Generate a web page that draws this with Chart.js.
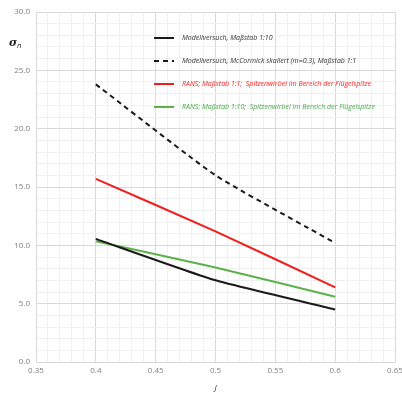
<!DOCTYPE html>
<html>
<head>
    <meta charset="UTF-8">
    <title>sigma_n over J</title>
    <script src="https://cdn.jsdelivr.net/npm/chart.js@4.4.1/dist/chart.umd.min.js"></script>
    <style>
        html, body { margin: 0; padding: 0; background: #fff; }
        #wrap { width: 402px; height: 397px; position: relative; }
    </style>
</head>
<body>
    <div id="wrap"><canvas id="chart"></canvas></div>

    <script>
        // data
        const jValues = [0.4, 0.5, 0.6];
        const modell = [10.55, 7.0, 4.5];
        const mcCormick = [23.8, 16.0, 10.2];
        const ransFull = [15.7, 11.2, 6.4];
        const ransModel = [10.35, 8.1, 5.6];

        const seriesLabels = [
            'Modellversuch, Maßstab 1:10',
            'Modellversuch, McCormick skaliert (m=0.3), Maßstab 1:1',
            'RANS; Maßstab 1:1;  Spitzenwirbel im Bereich der Flügelspitze',
            'RANS; Maßstab 1:10;  Spitzenwirbel im Bereich der Flügelspitze'
        ];
        const labelColors = ['#333333', '#333333', '#ff2020', '#4ea64e'];

        function toPoints(ys) {
            return jValues.map((x, i) => ({ x: x, y: ys[i] }));
        }

        // legend drawn inside the plot, like the original
        const innerLegend = {
            id: 'innerLegend',
            afterDraw(chart) {
                const ctx = chart.ctx;
                ctx.save();
                chart.data.datasets.forEach((ds, i) => {
                    const y = 38 + i * 23;
                    ctx.strokeStyle = ds.borderColor;
                    ctx.lineWidth = ds.borderWidth;
                    ctx.setLineDash(ds.borderDash || []);
                    ctx.beginPath();
                    ctx.moveTo(154, y);
                    ctx.lineTo(174, y);
                    ctx.stroke();
                    ctx.setLineDash([]);
                    ctx.fillStyle = labelColors[i];
                    ctx.font = 'italic 7px "Open Sans"';
                    ctx.textBaseline = 'middle';
                    ctx.fillText(ds.label, 182, y);
                });
                // y axis title
                ctx.fillStyle = '#222';
                ctx.font = 'italic bold 11px "DejaVu Serif"';
                ctx.textBaseline = 'alphabetic';
                ctx.fillText('σ', 9, 46);
                ctx.font = 'italic 7px "DejaVu Sans"';
                ctx.fillText('n', 17, 48);
                ctx.restore();
            }
        };

        const isMajorX = v => Math.round(v * 100) % 5 === 0;
        const isMajorY = v => Math.round(v) % 5 === 0;

        new Chart(document.getElementById('chart'), {
            type: 'line',
            data: {
                datasets: [
                    { label: seriesLabels[0], data: toPoints(modell), borderColor: '#1a1a1a', borderWidth: 2, tension: 0.15 },
                    { label: seriesLabels[1], data: toPoints(mcCormick), borderColor: '#1a1a1a', borderWidth: 2, borderDash: [5, 4], tension: 0.15 },
                    { label: seriesLabels[2], data: toPoints(ransFull), borderColor: '#f01e1e', borderWidth: 2, tension: 0.15 },
                    { label: seriesLabels[3], data: toPoints(ransModel), borderColor: '#5db04a', borderWidth: 2, tension: 0.15 }
                ]
            },
            options: {
                responsive: true,
                maintainAspectRatio: false,
                animation: false,
                elements: { point: { radius: 0 } },
                layout: { padding: { left: 0, right: 7, top: 12, bottom: 4 } },
                plugins: {
                    legend: { display: false },
                    tooltip: { enabled: false }
                },
                scales: {
                    x: {
                        type: 'linear',
                        min: 0.35,
                        max: 0.65,
                        afterFit(scale) {
                            scale.height = 31;
                            scale.paddingRight = 0;
                            scale.paddingLeft = 0;
                        },
                        title: {
                            display: true,
                            text: 'J',
                            color: '#333',
                            font: { family: '"Open Sans"', size: 8, style: 'italic' },
                            padding: { top: 0, bottom: 0 }
                        },
                        ticks: {
                            stepSize: 0.01,
                            autoSkip: false,
                            maxRotation: 0,
                            color: '#808080',
                            font: { family: '"Open Sans"', size: 8 },
                            padding: 4,
                            callback: v => isMajorX(v) ? String(Math.round(v * 100) / 100) : ''
                        },
                        grid: {
                            color: c => isMajorX(c.tick.value) ? '#d9d9d9' : '#f0f0f0',
                            lineWidth: 1,
                            drawTicks: false
                        },
                        border: { color: '#d9d9d9' }
                    },
                    y: {
                        min: 0,
                        max: 30,
                        afterFit(scale) { scale.width = 36; },
                        ticks: {
                            stepSize: 1,
                            autoSkip: false,
                            color: '#808080',
                            font: { family: '"Open Sans"', size: 8 },
                            padding: 6,
                            callback: v => isMajorY(v) ? v.toFixed(1) : ''
                        },
                        grid: {
                            color: c => isMajorY(c.tick.value) ? '#d9d9d9' : '#f0f0f0',
                            lineWidth: 1,
                            drawTicks: false
                        },
                        border: { color: '#d9d9d9' }
                    }
                }
            },
            plugins: [innerLegend]
        });
    </script>
</body>
</html>
